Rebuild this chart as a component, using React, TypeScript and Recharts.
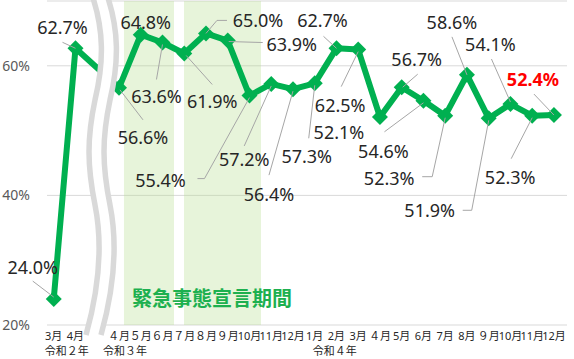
import { LineChart, Line, XAxis, YAxis, CartesianGrid, ReferenceArea } from 'recharts'

// One slot per month; the empty slot is the axis break between 2020 and 2021
const MONTHS = ['3月', '4月', '', '４月', '５月', '６月', '７月', '８月', '９月', '10月', '11月', '12月',
  '1月', '2月', '3月', '４月', '5月', '6月', '7月', '8月', '９月', '10月', '11月', '12月']
const YEARS = ['令和２年', '', '', '令和３年', '', '', '', '', '', '', '', '',
  '令和４年', '', '', '', '', '', '', '', '', '', '', '']
const RATES = [24.0, 62.7, null, 56.6, 64.8, 63.6, 61.9, 65.0, 63.9, 55.4, 57.2, 56.4,
  57.3, 62.7, 62.5, 52.1, 56.7, 54.6, 52.3, 58.6, 51.9, 54.1, 52.3, 52.4]
const Y_TICKS = [20, 40, 60]
// shaded emergency declaration periods, in month-slot units
const EMERGENCY_PERIODS = [[3.23, 5.53], [5.99, 9.53]]

// label centre offset from its point, plus leader line (relative to the point)
type LabelLayout = { dx: number; dy: number; lead?: number[][] } | null
const LABEL_LAYOUT: LabelLayout[] = [
  { dx: -21, dy: -32, lead: [[-21, -18], [0, -2]] },
  { dx: -13, dy: -21, lead: [[-13, -6], [0, 0]] },
  null,
  { dx: 24, dy: 49, lead: [[24, 32], [1, 2]] },
  { dx: 5, dy: -13 },
  { dx: -6, dy: 54, lead: [[-6, 37], [0, 2]] },
  { dx: 28, dy: 48, lead: [[28, 31], [2, 2]] },
  { dx: 52, dy: -13, lead: [[21, -13], [11, -13], [0, 0]] },
  { dx: 64, dy: 3, lead: [[35, 2], [1, 1]] },
  { dx: -89, dy: 84, lead: [[-52, 83], [-45, 83], [0, 2]] },
  { dx: -27, dy: 75, lead: [[-27, 62], [0, 2]] },
  { dx: -24, dy: 105, lead: [[-24, 86], [0, 2]] },
  { dx: -8, dy: 73, lead: [[-6, 55], [0, 2]] },
  { dx: -14, dy: -28, lead: [[-13, -12], [0, 0]] },
  { dx: -18, dy: 55, lead: [[-17, 37], [0, 2]] },
  { dx: -41, dy: 15 },
  { dx: 15, dy: -28, lead: [[16, -13], [1, 0]] },
  { dx: -40, dy: 50, lead: [[-39, 31], [0, 2]] },
  { dx: -56, dy: 62, lead: [[-23, 61], [-13, 61], [0, 2]] },
  { dx: -15, dy: -53, lead: [[-15, -38], [0, 0]] },
  { dx: -59, dy: 92, lead: [[-26, 92], [-17, 92], [0, 2]] },
  { dx: -20, dy: -60, lead: [[-19, -45], [0, -2]] },
  { dx: -22, dy: 61, lead: [[-21, 43], [0, 2]] },
  { dx: -21, dy: -36, lead: [[-20, -21], [0, 0]] },
]
const YEAR_DX: Record<number, number> = { 0: -9, 3: -16, 12: -2 }

const GREEN = '#00B050'
const FONT = '"Noto Sans", "Noto Sans CJK JP", sans-serif'

const data = MONTHS.map((month, i) => ({ idx: i, month, year: YEARS[i], rate: RATES[i] }))
const xTicks = data.filter(d => d.month !== '').map(d => d.idx)

const renderXTick = (props: any) => {
  const { x, payload } = props
  const i = payload.value
  return (
    <g>
      <text x={x} y={340} textAnchor="middle" fontSize={11} fill="#262626" fontFamily={FONT}>
        {MONTHS[i]}
      </text>
      {YEARS[i] && (
        <text x={x + (YEAR_DX[i] ?? -9)} y={355} textAnchor="start" fontSize={11} fill="#262626" fontFamily={FONT}>
          {YEARS[i]}
        </text>
      )}
    </g>
  )
}

const renderYTick = (props: any) => {
  const { y, payload } = props
  return (
    <text x={30} y={y + 5} textAnchor="end" fontSize={14} fill="#595959" fontFamily={FONT}>
      {payload.value}%
    </text>
  )
}

const renderDot = (props: any) => {
  const { cx, cy, index, value } = props
  if (value == null || cx == null || cy == null) return <g key={`dot-${index}`} />
  const layout = LABEL_LAYOUT[index]
  const isLast = index === RATES.length - 1
  const r = 8
  return (
    <g key={`dot-${index}`}>
      <polygon
        points={`${cx},${cy - r} ${cx + r},${cy} ${cx},${cy + r} ${cx - r},${cy}`}
        fill={GREEN}
      />
      {layout && layout.lead && (
        <polyline
          points={layout.lead.map(([lx, ly]) => `${cx + lx},${cy + ly}`).join(' ')}
          fill="none"
          stroke="#a6a6a6"
          strokeWidth={1}
        />
      )}
      {layout && (
        <text
          x={cx + layout.dx}
          y={cy + layout.dy}
          textAnchor="middle"
          dominantBaseline="central"
          fontSize={18}
          fontWeight={isLast ? 700 : 400}
          fill={isLast ? '#FF0000' : '#262626'}
          fontFamily={FONT}
        >
          {Number(value).toFixed(1)}%
        </text>
      )}
    </g>
  )
}

export default function App() {
  return (
    <div style={{ position: 'absolute', left: 0, top: 0, width: 574, height: 359, background: '#fff' }}>
      <LineChart width={574} height={359} data={data} margin={{ top: 1, right: 7, left: 0, bottom: 0 }}>
        {EMERGENCY_PERIODS.map(([x1, x2], i) => (
          <ReferenceArea key={`band-${i}`} x1={x1} x2={x2} y1={20} y2={70} fill="#b5dc8c" fillOpacity={0.32} stroke="none" />
        ))}
        <CartesianGrid vertical={false} stroke="#d9d9d9" />
        <XAxis
          dataKey="idx"
          type="number"
          domain={[-0.31, 23.6]}
          ticks={xTicks}
          interval={0}
          tick={renderXTick}
          tickLine={false}
          axisLine={false}
          height={34}
        />
        <YAxis
          domain={[20, 70]}
          ticks={Y_TICKS}
          tick={renderYTick}
          tickLine={false}
          axisLine={false}
          width={47}
        />
        <Line
          dataKey="rate"
          stroke={GREEN}
          strokeWidth={6}
          strokeLinejoin="round"
          connectNulls
          dot={renderDot}
          activeDot={false}
          isAnimationActive={false}
        />
      </LineChart>
      <svg width={574} height={359} style={{ position: 'absolute', left: 0, top: 0, pointerEvents: 'none' }}>
        <path d="M99.5,-5 C111.5,30 111.5,62 102.5,100 C94.5,138 94.5,165 102.5,205 C109.5,240 107.5,285 93.5,335" fill="none" stroke="#fff" strokeWidth={14} />
        <path d="M92,-5 C104,30 104,62 95,100 C87,138 87,165 95,205 C102,240 100,285 86,335" fill="none" stroke="#d9d9d9" strokeWidth={5.5} />
        <path d="M107,-5 C119,30 119,62 110,100 C102,138 102,165 110,205 C117,240 115,285 101,335" fill="none" stroke="#d9d9d9" strokeWidth={5.5} />
        <text x={212} y={306} textAnchor="middle" fontSize={20} fontWeight={700} fill="#1DB04F" fontFamily='"Noto Sans CJK JP", sans-serif'>
          緊急事態宣言期間
        </text>
      </svg>
    </div>
  )
}
